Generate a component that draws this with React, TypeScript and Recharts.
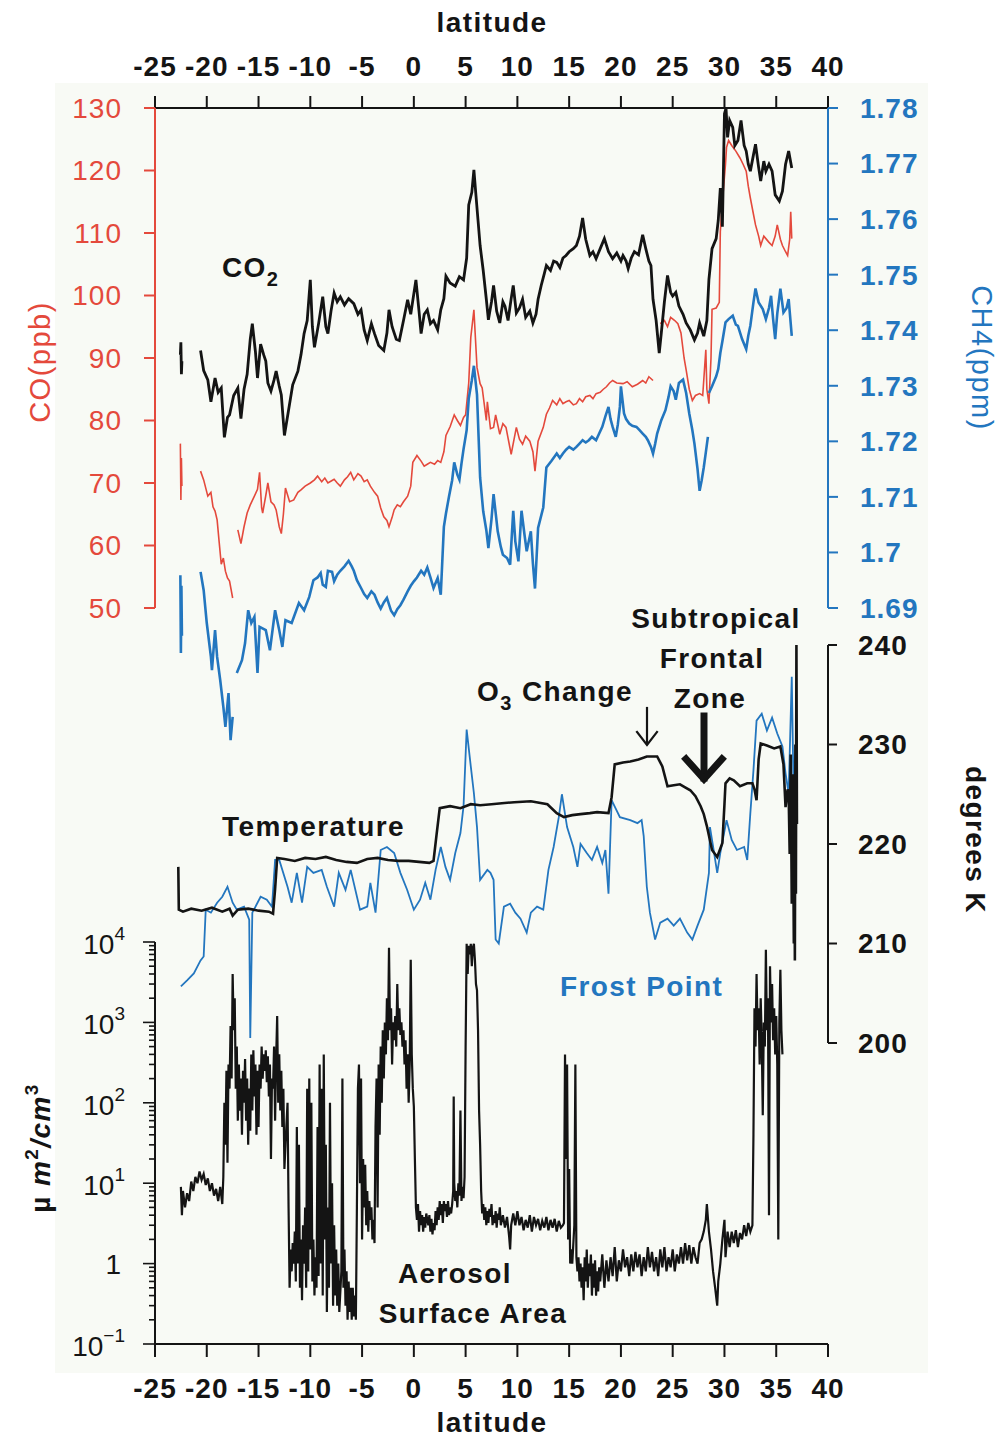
import React from 'react';
import { LineChart, Line, XAxis, YAxis } from 'recharts';

type Pt = [number, number | null];

// axis ticks
const latTicks = [-25, -20, -15, -10, -5, 0, 5, 10, 15, 20, 25, 30, 35, 40];
const coTicks = [50, 60, 70, 80, 90, 100, 110, 120, 130];
const ch4Ticks = [1.69, 1.7, 1.71, 1.72, 1.73, 1.74, 1.75, 1.76, 1.77, 1.78];
const tempTicks = [200, 210, 220, 230, 240];
const aerosolDecades = [0.1, 1, 10, 100, 1000];
const aerosolSteps = [1, 2, 3, 4, 5, 6, 7, 8, 9];

// CO (ppb) vs latitude
const coTrace: Pt[] = [
  [-22.55, 76.3], [-22.5, 67.3], [-22.45, 74.0], [-22.4, 69.5], [-21.5, null],
  [-20.6, 71.9], [-20.3, 70.5], [-19.9, 67.9], [-19.6, 68.5], [-19.4, 66.2], [-19.2, 65.5], [-19.0, 64.1],
  [-18.8, 60.5], [-18.6, 57.0], [-18.4, 58.0], [-18.2, 55.9], [-18.0, 54.8], [-17.8, 54.3], [-17.5, 51.6], [-17.3, null],
  [-17.0, 62.5], [-16.7, 60.3], [-16.4, 63.0], [-16.1, 65.2], [-15.8, 66.5], [-15.4, 67.9], [-15.1, 69.0],
  [-14.9, 71.7], [-14.7, 66.0], [-14.6, 65.2], [-14.3, 68.0], [-14.1, 70.0], [-13.8, 67.0], [-13.5, 66.5],
  [-13.3, 65.7], [-13.0, 63.0], [-12.8, 61.9], [-12.6, 65.0], [-12.4, 69.2], [-12.0, 67.0], [-11.6, 67.3],
  [-11.2, 68.5], [-10.9, 68.9], [-10.5, 69.5], [-10.0, 70.0], [-9.6, 70.5], [-9.3, 71.1], [-8.9, 70.2],
  [-8.6, 70.8], [-8.3, 70.0], [-7.9, 70.4], [-7.7, 70.6], [-7.4, 70.0], [-7.1, 69.5], [-6.7, 70.5],
  [-6.4, 71.0], [-6.1, 71.7], [-5.8, 70.5], [-5.4, 71.5], [-5.1, 71.1], [-4.8, 70.2], [-4.5, 70.5],
  [-4.2, 69.5], [-3.8, 68.5], [-3.5, 67.9], [-3.2, 66.0], [-2.9, 64.6], [-2.6, 64.0], [-2.4, 63.0],
  [-2.1, 64.5], [-1.9, 65.7], [-1.6, 66.5], [-1.3, 66.2], [-1.0, 67.0], [-0.6, 67.9], [-0.3, 69.5],
  [-0.1, 73.3], [0.3, 74.4], [0.7, 73.5], [1.0, 72.7], [1.3, 73.0], [1.6, 73.3], [2.0, 73.0], [2.3, 73.6],
  [2.6, 73.3], [2.9, 75.0], [3.1, 77.6], [3.5, 79.0], [3.9, 80.9], [4.2, 80.0], [4.5, 79.2], [4.8, 80.5],
  [5.0, 80.9], [5.3, 86.0], [5.5, 93.3], [5.8, 97.7], [6.1, 88.5], [6.4, 85.9], [6.6, 85.2], [7.0, 80.0],
  [7.1, 83.0], [7.4, 78.7], [7.7, 78.9], [7.9, 80.9], [8.3, 77.8], [8.6, 79.5], [8.9, 78.9], [9.4, 74.6],
  [9.9, 78.9], [10.2, 77.0], [10.5, 76.2], [10.8, 77.5], [11.2, 76.7], [11.5, 75.0], [11.7, 71.9],
  [12.0, 76.7], [12.5, 78.9], [12.8, 81.0], [13.1, 82.0], [13.4, 83.2], [13.8, 82.5], [14.1, 83.5],
  [14.4, 82.7], [14.7, 83.0], [15.0, 83.2], [15.4, 82.5], [15.7, 82.7], [16.0, 83.5], [16.3, 83.0],
  [16.6, 83.8], [17.0, 84.0], [17.3, 83.5], [17.6, 84.3], [18.0, 84.5], [18.3, 85.0], [18.6, 85.4],
  [18.9, 86.0], [19.2, 86.4], [19.6, 86.0], [20.2, 85.9], [20.6, 86.2], [21.1, 85.4], [21.6, 85.8],
  [22.1, 86.4], [22.4, 86.0], [22.7, 87.0], [23.1, 86.4], [23.4, null],
  [23.8, 95.5], [24.2, 96.0], [24.5, 95.0], [24.8, 96.5], [25.2, 96.0], [25.5, 95.5], [25.8, 94.0],
  [26.1, 90.0], [26.3, 88.1], [26.6, 85.0], [26.9, 83.2], [27.2, 84.0], [27.6, 84.3], [27.9, 84.0],
  [28.2, 91.3], [28.3, 85.0], [28.5, 82.7], [28.7, 90.0], [28.8, 97.8], [29.2, 98.0], [29.5, 98.9],
  [29.6, 110.2], [29.8, 115.0], [30.1, 121.0], [30.2, 123.7], [30.4, 124.8], [30.7, 124.0], [31.1, 123.1],
  [31.5, 122.0], [31.8, 121.0], [32.1, 119.9], [32.3, 117.5], [32.5, 115.6], [32.8, 113.0], [33.0, 111.3],
  [33.3, 109.5], [33.5, 108.0], [33.8, 109.5], [34.0, 109.1], [34.3, 108.5], [34.6, 108.0], [34.9, 109.5],
  [35.1, 111.3], [35.4, 109.0], [35.6, 108.0], [35.9, 107.0], [36.1, 106.4], [36.3, 109.0], [36.4, 113.4],
  [36.5, 109.1],
];

// CO2 trace (no axis of its own; read against the CO scale)
const co2Trace: Pt[] = [
  [-22.55, 90.5], [-22.5, 92.5], [-22.45, 87.4], [-22.4, 89.5], [-21.5, null],
  [-20.6, 91.2], [-20.3, 88.0], [-19.9, 86.5], [-19.6, 83.0], [-19.2, 86.8], [-18.9, 84.5], [-18.6, 85.2],
  [-18.3, 77.3], [-18.0, 80.5], [-17.8, 80.9], [-17.4, 84.0], [-17.0, 85.2], [-16.7, 80.3], [-16.4, 85.0],
  [-16.1, 87.4], [-15.8, 93.0], [-15.6, 95.5], [-15.3, 91.0], [-15.1, 86.8], [-14.8, 92.2], [-14.5, 90.5],
  [-14.3, 89.5], [-14.1, 86.0], [-13.8, 84.7], [-13.5, 86.5], [-13.3, 87.9], [-13.0, 85.5], [-12.8, 84.1],
  [-12.5, 77.6], [-11.7, 85.7], [-11.2, 87.9], [-10.9, 90.5], [-10.6, 93.9], [-10.3, 96.0], [-10.0, 102.5],
  [-9.8, 95.0], [-9.6, 91.7], [-9.2, 95.5], [-8.8, 99.8], [-8.5, 95.0], [-8.3, 93.9], [-8.0, 97.5],
  [-7.7, 100.4], [-7.4, 99.0], [-7.1, 99.8], [-6.7, 98.5], [-6.3, 99.5], [-5.8, 98.7], [-5.4, 97.0],
  [-5.1, 97.7], [-4.8, 94.5], [-4.5, 92.8], [-4.1, 95.5], [-3.8, 93.9], [-3.4, 92.0], [-2.9, 91.2],
  [-2.6, 94.0], [-2.4, 97.7], [-2.1, 95.0], [-1.7, 93.0], [-1.4, 92.8], [-1.0, 96.0], [-0.6, 99.3],
  [-0.3, 97.0], [0.2, 102.5], [0.5, 97.5], [0.7, 93.9], [1.0, 97.0], [1.3, 97.7], [1.6, 95.5], [1.9, 96.0],
  [2.3, 94.5], [2.6, 97.7], [2.9, 99.5], [3.1, 103.1], [3.5, 102.0], [4.0, 101.5], [4.4, 103.0], [4.8, 102.5],
  [5.1, 106.0], [5.3, 114.5], [5.6, 116.5], [5.8, 120.1], [6.0, 116.0], [6.2, 112.0], [6.4, 108.0],
  [6.7, 104.0], [7.0, 99.4], [7.2, 96.1], [7.5, 99.0], [7.7, 101.6], [8.0, 97.5], [8.3, 95.6], [8.6, 99.0],
  [8.8, 98.3], [9.1, 96.0], [9.4, 99.5], [9.6, 101.6], [9.9, 97.2], [10.2, 98.0], [10.5, 99.4], [10.8, 96.5],
  [11.2, 97.5], [11.5, 95.6], [11.8, 97.0], [12.0, 99.4], [12.3, 101.6], [12.6, 103.5], [12.8, 104.8],
  [13.2, 104.0], [13.5, 105.5], [13.8, 105.3], [14.1, 104.5], [14.4, 106.0], [14.7, 106.4], [15.0, 107.0],
  [15.4, 107.5], [15.7, 108.0], [16.0, 109.5], [16.3, 112.4], [16.6, 109.0], [17.0, 106.4], [17.3, 107.0],
  [17.6, 105.9], [18.0, 107.5], [18.4, 109.1], [18.8, 107.0], [19.2, 105.9], [19.6, 106.8], [20.0, 105.5],
  [20.2, 106.4], [20.5, 105.5], [20.7, 104.3], [21.0, 106.0], [21.3, 107.0], [21.7, 106.5], [22.1, 109.7],
  [22.4, 107.5], [22.7, 105.5], [22.9, 104.8], [23.1, 99.4], [23.4, 96.0], [23.7, 90.8], [23.9, 94.0],
  [24.2, 99.0], [24.5, 103.2], [24.8, 100.5], [25.0, 99.9], [25.3, 100.5], [25.6, 98.3], [26.0, 97.0],
  [26.3, 95.6], [26.7, 94.5], [27.1, 92.9], [27.4, 94.0], [27.6, 95.6], [28.0, 93.5], [28.3, 96.0],
  [28.5, 102.6], [28.8, 107.5], [29.2, 109.1], [29.4, 112.0], [29.6, 117.2], [29.8, 111.0], [30.0, 129.1],
  [30.15, 130.0], [30.3, 125.3], [30.5, 128.0], [30.8, 126.9], [31.0, 124.0], [31.3, 124.8], [31.6, 128.0],
  [31.9, 124.0], [32.1, 123.1], [32.3, 121.0], [32.5, 119.9], [32.8, 122.5], [33.0, 124.2], [33.3, 120.5],
  [33.5, 118.3], [33.8, 121.5], [34.0, 119.9], [34.3, 121.0], [34.6, 119.9], [34.9, 116.1], [35.3, 115.1],
  [35.6, 116.7], [35.9, 121.0], [36.2, 123.1], [36.5, 120.4],
];

// CH4 (ppm)
const ch4Trace: Pt[] = [
  [-22.55, 1.6959], [-22.5, 1.6819], [-22.45, 1.694], [-22.4, 1.685], [-21.5, null],
  [-20.6, 1.6965], [-20.3, 1.6932], [-20.0, 1.6873], [-19.6, 1.6812], [-19.5, 1.6788], [-19.2, 1.686],
  [-19.0, 1.6812], [-18.7, 1.677], [-18.4, 1.6722], [-18.2, 1.6686], [-17.9, 1.6747], [-17.7, 1.6662],
  [-17.5, 1.6704], [-17.3, null],
  [-17.1, 1.6783], [-16.6, 1.6806], [-16.3, 1.6837], [-16.0, 1.6896], [-15.7, 1.6873], [-15.4, 1.6884],
  [-15.1, 1.6783], [-14.9, 1.6866], [-14.3, 1.686], [-13.9, 1.6824], [-13.4, 1.6896], [-13.0, 1.686],
  [-12.7, 1.683], [-12.4, 1.6878], [-11.8, 1.6873], [-11.1, 1.6909], [-10.6, 1.6896], [-10.1, 1.692],
  [-9.7, 1.695], [-9.3, 1.6955], [-9.0, 1.6963], [-8.8, 1.6942], [-8.5, 1.6938], [-8.3, 1.6967],
  [-7.9, 1.6965], [-7.7, 1.6948], [-7.4, 1.696], [-7.1, 1.6967], [-6.7, 1.6975], [-6.3, 1.6985],
  [-6.0, 1.6975], [-5.8, 1.6967], [-5.5, 1.695], [-5.1, 1.6936], [-4.8, 1.6925], [-4.5, 1.6918],
  [-4.1, 1.693], [-3.8, 1.6924], [-3.5, 1.691], [-3.2, 1.6899], [-2.9, 1.691], [-2.6, 1.6918],
  [-2.2, 1.6895], [-1.9, 1.6887], [-1.6, 1.6898], [-1.3, 1.6905], [-1.0, 1.6915], [-0.6, 1.693],
  [-0.3, 1.694], [0.0, 1.6948], [0.3, 1.6955], [0.7, 1.6967], [1.0, 1.696], [1.3, 1.6973], [1.6, 1.6955],
  [1.9, 1.6936], [2.3, 1.6954], [2.6, 1.6924], [2.9, 1.7046], [3.1, 1.707], [3.4, 1.7101], [3.7, 1.713],
  [3.9, 1.7162], [4.2, 1.714], [4.4, 1.7131], [4.6, 1.716], [4.8, 1.7186], [5.1, 1.722], [5.3, 1.7277],
  [5.6, 1.731], [5.8, 1.7336], [6.1, 1.7284], [6.4, 1.7135], [6.7, 1.7074], [7.0, 1.704], [7.2, 1.7008],
  [7.5, 1.706], [7.7, 1.7105], [8.1, 1.7038], [8.4, 1.701], [8.6, 1.6996], [9.0, 1.699], [9.3, 1.6978],
  [9.6, 1.7075], [9.8, 1.702], [10.1, 1.6984], [10.4, 1.7075], [10.7, 1.703], [10.9, 1.7002],
  [11.3, 1.7038], [11.5, 1.698], [11.7, 1.6935], [12.0, 1.7044], [12.5, 1.7081], [12.8, 1.7153],
  [13.3, 1.7165], [13.8, 1.7178], [14.1, 1.717], [14.4, 1.7178], [14.7, 1.7185], [15.0, 1.719],
  [15.4, 1.7185], [15.7, 1.719], [16.0, 1.7196], [16.3, 1.7202], [16.6, 1.7198], [16.9, 1.7202],
  [17.2, 1.7208], [17.6, 1.7202], [17.9, 1.7214], [18.2, 1.7226], [18.5, 1.7245], [18.8, 1.7262],
  [19.0, 1.724], [19.2, 1.7226], [19.5, 1.7208], [19.7, 1.723], [19.9, 1.7262], [20.0, 1.7299],
  [20.3, 1.725], [20.5, 1.724], [20.8, 1.7232], [21.1, 1.7228], [21.5, 1.7226], [21.8, 1.722],
  [22.1, 1.7214], [22.4, 1.7208], [22.6, 1.7202], [22.9, 1.719], [23.1, 1.7178], [23.3, 1.7195],
  [23.5, 1.7214], [23.9, 1.7238], [24.3, 1.7256], [24.6, 1.728], [24.8, 1.7299], [25.1, 1.729],
  [25.3, 1.7275], [25.6, 1.7305], [26.0, 1.7311], [26.3, 1.7287], [26.6, 1.725], [26.9, 1.722],
  [27.1, 1.7196], [27.4, 1.715], [27.6, 1.7111], [27.8, 1.713], [28.0, 1.7153], [28.2, 1.718],
  [28.4, 1.7208], [28.45, null],
  [28.5, 1.7287], [28.8, 1.7299], [29.2, 1.7317], [29.4, 1.733], [29.6, 1.7359], [29.8, 1.738],
  [30.1, 1.7414], [30.4, 1.742], [30.8, 1.7426], [31.1, 1.741], [31.3, 1.7408], [31.7, 1.7384],
  [32.1, 1.7366], [32.3, 1.739], [32.5, 1.7408], [32.8, 1.745], [33.0, 1.7475], [33.3, 1.745],
  [33.7, 1.7438], [34.0, 1.742], [34.3, 1.744], [34.5, 1.7462], [34.7, 1.742], [34.9, 1.7384],
  [35.1, 1.743], [35.4, 1.7475], [35.7, 1.7432], [36.0, 1.744], [36.2, 1.7456], [36.5, 1.739],
];

// temperature (K)
const tempTrace: Pt[] = [
  [-22.75, 217.7], [-22.7, 213.4], [-22.3, 213.2], [-21.5, 213.5], [-20.5, 213.3], [-19.5, 213.6],
  [-18.5, 213.2], [-17.8, 213.5], [-17.5, 212.8], [-17.0, 213.4], [-16.0, 213.5], [-15.0, 213.3],
  [-14.0, 213.2], [-13.6, 213.0], [-13.4, 215.5], [-13.2, 218.6], [-12.5, 218.5], [-11.5, 218.3],
  [-10.5, 218.6], [-9.5, 218.5], [-8.5, 218.7], [-7.5, 218.4], [-6.5, 218.2], [-5.5, 218.1],
  [-4.5, 218.5], [-3.5, 218.6], [-2.5, 218.4], [-1.5, 218.3], [-0.5, 218.3], [0.5, 218.2], [1.5, 218.1],
  [1.9, 218.3], [2.2, 221.0], [2.5, 223.6], [3.5, 223.8], [4.5, 223.6], [5.5, 224.0], [6.4, 223.9],
  [7.5, 224.0], [8.5, 224.1], [9.7, 224.2], [11.3, 224.3], [12.9, 224.0], [13.8, 223.1], [14.5, 222.7],
  [15.3, 222.9], [16.1, 223.0], [17.0, 223.1], [17.7, 223.2], [18.8, 223.1], [19.1, 224.7], [19.4, 228.0],
  [20.2, 228.2], [20.9, 228.3], [21.7, 228.5], [22.5, 228.8], [23.5, 228.8], [24.0, 227.8], [24.5, 225.8],
  [25.1, 225.9], [25.7, 226.0], [26.2, 225.7], [26.7, 225.4], [27.2, 224.8], [27.7, 223.8], [28.0, 223.0],
  [28.3, 221.8], [28.8, 219.4], [29.3, 218.7], [29.8, 220.1], [30.0, 224.0], [30.1, 226.1], [30.5, 226.6],
  [30.9, 226.4], [31.5, 225.8], [32.2, 226.1], [32.7, 226.1], [32.9, 225.5], [33.1, 224.4], [33.3, 228.5],
  [33.5, 230.1], [34.1, 229.9], [34.8, 229.6], [35.4, 229.8], [35.7, 228.0], [35.9, 223.7], [36.1, 225.5],
  [36.2, 225.0], [36.3, 219.0], [36.4, 229.0], [36.5, 214.0], [36.6, 227.0], [36.7, 210.0], [36.75, 224.0],
  [36.8, 208.3], [36.85, 230.0], [36.9, 215.0], [36.95, 240.0], [37.0, 222.0],
];

// frost point (K)
const frostTrace: Pt[] = [
  [-22.5, 205.7], [-21.9, 206.3], [-21.25, 207.0], [-20.6, 208.3], [-20.3, 208.7], [-20.1, 213.4],
  [-19.6, 213.1], [-19.0, 214.1], [-18.5, 214.7], [-18.0, 215.7], [-17.5, 214.1], [-17.1, 213.4],
  [-16.4, 213.7], [-15.9, 212.4], [-15.8, 200.5], [-15.6, 213.1], [-14.8, 214.7], [-14.2, 214.4],
  [-13.7, 213.7], [-13.4, 218.4], [-13.0, 218.4], [-12.2, 215.7], [-11.8, 214.1], [-11.3, 217.1],
  [-10.8, 214.1], [-10.3, 217.7], [-9.7, 217.1], [-8.9, 217.4], [-8.4, 215.7], [-7.7, 213.7],
  [-7.25, 217.1], [-6.6, 215.4], [-6.1, 217.4], [-5.2, 213.4], [-4.5, 213.7], [-4.2, 216.1], [-3.7, 213.1],
  [-3.2, 219.4], [-2.6, 219.7], [-1.9, 219.1], [-1.3, 217.1], [-0.65, 215.4], [0.0, 213.4], [0.6, 214.4],
  [1.1, 216.1], [1.6, 214.4], [2.1, 217.4], [2.6, 219.7], [3.05, 217.7], [3.5, 216.4], [4.0, 219.1],
  [4.5, 221.1], [4.8, 223.8], [5.1, 231.5], [5.5, 227.8], [5.8, 225.1], [6.1, 221.7], [6.4, 216.4],
  [7.1, 217.4], [7.4, 217.1], [7.7, 216.4], [7.9, 210.4], [8.2, 210.0], [8.7, 213.7], [9.3, 214.0],
  [9.8, 213.1], [10.3, 212.5], [10.9, 211.1], [11.3, 213.1], [11.9, 213.7], [12.5, 213.4], [13.0, 217.4],
  [13.5, 219.7], [14.0, 222.7], [14.3, 225.0], [14.8, 221.7], [15.4, 219.7], [15.8, 217.7], [16.1, 220.0],
  [16.7, 219.1], [17.2, 218.4], [17.7, 219.7], [18.2, 218.1], [18.5, 219.4], [18.8, 215.0], [19.1, 224.4],
  [19.9, 222.7], [20.9, 222.4], [21.6, 222.1], [22.0, 222.4], [22.2, 220.8], [22.5, 215.7], [22.8, 213.1],
  [23.3, 210.4], [23.8, 212.1], [24.5, 212.5], [25.1, 211.8], [25.7, 212.5], [26.4, 211.1], [26.9, 210.4],
  [27.4, 211.8], [28.0, 213.4], [28.5, 217.1], [28.6, 221.7], [29.0, 219.1], [29.3, 217.1], [29.6, 219.1],
  [30.2, 222.4], [30.7, 220.4], [31.2, 219.4], [31.9, 219.7], [32.2, 218.4], [32.5, 223.1], [32.8, 227.4],
  [33.1, 232.4], [33.6, 233.1], [34.1, 231.4], [34.6, 232.7], [35.1, 231.1], [35.6, 229.8], [35.9, 227.1],
  [36.2, 225.1], [36.5, 236.8], [36.7, 223.7],
];

// aerosol surface area (um2/cm3)
const aerosolTrace: Pt[] = [
  [-22.5, 9.0], [-22.4, 4.0], [-22.3, 8.0], [-22.1, 5.0], [-21.9, 7.5], [-21.7, 6.0], [-21.5, 10.5],
  [-21.3, 8.0], [-21.1, 12.0], [-20.9, 10.0], [-20.7, 14.0], [-20.5, 11.0], [-20.3, 13.0], [-20.1, 9.5],
  [-19.9, 11.5], [-19.7, 8.0], [-19.5, 10.0], [-19.3, 7.0], [-19.1, 8.5], [-18.9, 6.0], [-18.7, 9.0],
  [-18.5, 5.5], [-18.4, 12.0], [-18.3, 100], [-18.2, 30], [-18.1, 250], [-18.0, 18], [-17.9, 300],
  [-17.8, 150], [-17.7, 900], [-17.6, 200], [-17.5, 4000], [-17.4, 800], [-17.3, 2000], [-17.2, 150],
  [-17.1, 500], [-17.0, 60], [-16.9, 300], [-16.8, 80], [-16.7, 200], [-16.6, 40], [-16.5, 250],
  [-16.4, 100], [-16.3, 350], [-16.2, 60], [-16.1, 200], [-16.0, 30], [-15.9, 150], [-15.8, 45],
  [-15.7, 400], [-15.6, 80], [-15.5, 450], [-15.4, 120], [-15.3, 300], [-15.2, 40], [-15.1, 250],
  [-15.0, 50], [-14.9, 300], [-14.8, 150], [-14.7, 500], [-14.6, 200], [-14.5, 400], [-14.4, 250],
  [-14.3, 450], [-14.2, 180], [-14.1, 380], [-14.0, 120], [-13.9, 300], [-13.8, 20], [-13.7, 200],
  [-13.6, 150], [-13.5, 500], [-13.4, 60], [-13.3, 350], [-13.2, 1200], [-13.1, 100], [-13.0, 400],
  [-12.9, 80], [-12.8, 250], [-12.7, 50], [-12.6, 150], [-12.5, 15], [-12.4, 30], [-12.2, 100],
  [-12.1, 5], [-12.0, 0.5], [-11.9, 1.5], [-11.8, 0.8], [-11.7, 1.8], [-11.6, 1.0], [-11.5, 2.5],
  [-11.4, 0.6], [-11.3, 50], [-11.2, 1.0], [-11.1, 30], [-11.0, 0.5], [-10.9, 2.0], [-10.8, 0.35],
  [-10.7, 3], [-10.6, 1.0], [-10.5, 5], [-10.4, 0.5], [-10.3, 150], [-10.2, 0.8], [-10.1, 200],
  [-10.0, 1.5], [-9.9, 100], [-9.8, 0.6], [-9.7, 2.0], [-9.6, 0.4], [-9.5, 1.2], [-9.4, 0.5], [-9.3, 50],
  [-9.2, 0.7], [-9.1, 300], [-9.0, 1.0], [-8.9, 150], [-8.8, 0.4], [-8.7, 400], [-8.6, 2.0], [-8.5, 30],
  [-8.4, 0.25], [-8.3, 5], [-8.2, 0.5], [-8.1, 100], [-8.0, 1.0], [-7.9, 10], [-7.8, 0.3], [-7.7, 3],
  [-7.6, 0.4], [-7.5, 1.5], [-7.4, 0.3], [-7.3, 1.0], [-7.2, 0.25], [-7.0, 0.8], [-6.9, 200], [-6.8, 0.5],
  [-6.7, 1.5], [-6.6, 0.3], [-6.5, 0.8], [-6.4, 0.2], [-6.3, 0.6], [-6.2, 0.25], [-6.1, 0.5], [-6.0, 0.2],
  [-5.9, 0.5], [-5.8, 0.22], [-5.7, 0.4], [-5.6, 0.2], [-5.5, 5], [-5.4, 150], [-5.3, 300], [-5.2, 10],
  [-5.1, 200], [-5.0, 2], [-4.9, 20], [-4.8, 5], [-4.7, 17], [-4.6, 3], [-4.5, 8], [-4.4, 2.5], [-4.3, 6],
  [-4.2, 3.5], [-4.1, 5], [-4.0, 2], [-3.9, 3.5], [-3.8, 1.8], [-3.7, 50], [-3.6, 200], [-3.5, 5],
  [-3.4, 300], [-3.3, 40], [-3.2, 500], [-3.1, 100], [-3.0, 800], [-2.9, 200], [-2.8, 1000], [-2.7, 400],
  [-2.6, 2000], [-2.5, 600], [-2.4, 8500], [-2.3, 800], [-2.2, 1500], [-2.1, 300], [-2.0, 1000],
  [-1.9, 600], [-1.8, 1200], [-1.7, 500], [-1.6, 3000], [-1.5, 800], [-1.4, 1500], [-1.3, 700],
  [-1.2, 1000], [-1.1, 500], [-1.0, 800], [-0.9, 300], [-0.8, 600], [-0.7, 150], [-0.6, 400], [-0.5, 100],
  [-0.4, 300], [-0.3, 6000], [-0.2, 400], [-0.1, 150], [0.0, 90], [0.1, 20], [0.2, 5], [0.3, 3.5],
  [0.4, 5.5], [0.5, 2.5], [0.6, 4.5], [0.7, 3.0], [0.8, 4.0], [0.9, 2.5], [1.0, 3.8], [1.1, 2.8],
  [1.2, 4.2], [1.3, 3.5], [1.4, 3.0], [1.5, 4.0], [1.6, 2.5], [1.7, 3.6], [1.8, 2.3], [1.9, 3.2],
  [2.0, 2.6], [2.1, 4.5], [2.2, 3.0], [2.3, 5.0], [2.4, 3.5], [2.5, 6.0], [2.6, 4.0], [2.7, 5.5],
  [2.8, 3.2], [2.9, 6.0], [3.0, 4.5], [3.1, 5.5], [3.2, 3.8], [3.3, 6.0], [3.4, 4.0], [3.5, 5.0],
  [3.6, 4.2], [3.7, 5.5], [3.8, 8.0], [3.85, 120], [3.9, 10], [4.0, 6], [4.1, 8], [4.2, 5], [4.3, 10],
  [4.4, 7], [4.5, 80], [4.6, 6], [4.7, 9], [4.8, 6.5], [4.9, 12], [5.0, 500], [5.1, 9500], [5.2, 4000],
  [5.3, 9000], [5.4, 7000], [5.5, 9500], [5.6, 5000], [5.7, 8500], [5.8, 9500], [5.9, 6000], [6.0, 3000],
  [6.1, 2500], [6.2, 800], [6.3, 80], [6.4, 30], [6.5, 8], [6.6, 4.2], [6.7, 5.5], [6.8, 3.5], [6.9, 5.0],
  [7.0, 3.0], [7.1, 4.5], [7.2, 3.2], [7.3, 4.8], [7.4, 3.8], [7.5, 5.5], [7.6, 3.0], [7.7, 4.0],
  [7.8, 3.2], [7.9, 4.5], [8.0, 2.8], [8.1, 4.2], [8.2, 3.5], [8.3, 5.0], [8.4, 3.0], [8.6, 4.0],
  [8.8, 2.8], [9.0, 3.8], [9.2, 2.2], [9.3, 1.5], [9.4, 3.0], [9.6, 4.2], [9.8, 3.0], [10.0, 4.5],
  [10.2, 3.0], [10.4, 3.8], [10.6, 2.6], [10.8, 3.5], [11.0, 2.8], [11.2, 4.0], [11.4, 2.5], [11.6, 3.8],
  [11.8, 3.0], [12.0, 3.6], [12.2, 2.6], [12.4, 3.4], [12.6, 2.8], [12.8, 3.8], [13.0, 2.6], [13.2, 3.5],
  [13.4, 2.8], [13.6, 3.6], [13.8, 2.5], [14.0, 3.4], [14.2, 2.8], [14.4, 3.0], [14.5, 3.2], [14.6, 400],
  [14.7, 20], [14.8, 300], [14.9, 2.0], [15.0, 15], [15.1, 1.0], [15.2, 1.5], [15.3, 1.0], [15.5, 3.0],
  [15.6, 300], [15.7, 1.2], [15.8, 0.8], [15.9, 1.2], [16.0, 0.6], [16.1, 1.0], [16.2, 0.5], [16.3, 0.9],
  [16.4, 0.35], [16.5, 1.2], [16.6, 0.6], [16.7, 1.5], [16.8, 0.5], [16.9, 1.0], [17.0, 0.7], [17.1, 1.3],
  [17.2, 0.4], [17.3, 1.0], [17.4, 0.5], [17.5, 1.1], [17.6, 0.4], [17.7, 0.8], [17.8, 0.45], [17.9, 0.9],
  [18.0, 0.6], [18.2, 1.3], [18.4, 0.5], [18.6, 1.1], [18.8, 0.6], [19.0, 1.2], [19.2, 0.7], [19.4, 1.6],
  [19.6, 0.6], [19.8, 1.1], [20.0, 0.8], [20.2, 1.5], [20.4, 0.9], [20.6, 1.2], [20.8, 0.7], [21.0, 1.3],
  [21.2, 0.8], [21.4, 1.4], [21.6, 0.9], [21.8, 1.3], [22.0, 0.7], [22.2, 1.2], [22.4, 0.8], [22.6, 1.6],
  [22.8, 0.9], [23.0, 1.4], [23.2, 0.8], [23.4, 1.2], [23.6, 0.7], [23.8, 1.5], [24.0, 0.9], [24.2, 1.6],
  [24.4, 0.8], [24.6, 1.2], [24.8, 0.9], [25.0, 1.5], [25.2, 0.8], [25.4, 1.3], [25.6, 1.0], [25.8, 1.6],
  [26.0, 1.0], [26.2, 1.8], [26.4, 1.1], [26.6, 1.7], [26.8, 1.0], [27.0, 1.6], [27.2, 1.2], [27.4, 1.0],
  [27.6, 1.8], [27.8, 2.0], [28.0, 2.5], [28.2, 3.5], [28.3, 5.5], [28.5, 2.5], [28.7, 1.5], [28.9, 0.8],
  [29.1, 0.5], [29.3, 0.3], [29.4, 0.6], [29.6, 1.0], [29.8, 2.0], [30.0, 3.5], [30.1, 1.2], [30.3, 2.5],
  [30.5, 1.6], [30.7, 2.5], [30.9, 1.8], [31.1, 2.6], [31.3, 1.6], [31.5, 2.4], [31.7, 2.0], [31.9, 3.0],
  [32.1, 2.2], [32.3, 3.2], [32.5, 2.5], [32.7, 3.0], [32.8, 40], [32.9, 1500], [33.0, 500], [33.1, 4000],
  [33.2, 800], [33.3, 1500], [33.4, 300], [33.5, 2000], [33.6, 600], [33.7, 70], [33.8, 1000], [33.9, 500],
  [34.0, 8000], [34.1, 800], [34.2, 2000], [34.3, 4.0], [34.4, 5000], [34.5, 1000], [34.6, 3000],
  [34.7, 600], [34.8, 1500], [34.9, 400], [35.0, 1200], [35.1, 300], [35.2, 2.0], [35.3, 1000],
  [35.4, 4500], [35.5, 800], [35.6, 400],
];

const W = 997;
const H = 1442;
const PLOT_L = 155;
const PLOT_R = 828;
const TOP_Y = 108;
const MID_Y = 608;
const TEMP_TOP = 645;
const TEMP_BOT = 1043;
const AER_TOP = 942;
const AER_BOT = 1344;
const CH4_OVER_BOT = 780;

const FONT = '"Liberation Sans", Arial, Helvetica, sans-serif';
const RED = '#e4493c';
const BLUE = '#2376bf';
const INK = '#141414';

const rows = (pts: Pt[]) => pts.map(([lat, v]) => ({ lat, v }));
const aerosolTicks = aerosolDecades
  .flatMap((d) => aerosolSteps.map((m) => Number((d * m).toPrecision(3))))
  .concat(10000);

// CH4 drops below the axis floor, so it gets its own taller plot area
const ch4PerPx = (1.78 - 1.69) / (MID_Y - TOP_Y);
const ch4Low = 1.69 - (CH4_OVER_BOT - MID_Y) * ch4PerPx;

const layer: React.CSSProperties = { position: 'absolute', left: 0, top: 0 };
const numTick = (fill: string, weight: number | string) => ({
  fill,
  fontSize: 28,
  fontWeight: weight,
  fontFamily: FONT,
  letterSpacing: 1,
});

function AerosolTick(props: any) {
  const { x, y, payload } = props;
  const v = payload.value as number;
  const e = Math.log10(v);
  const exp = Math.round(e);
  const major = Math.abs(e - exp) < 1e-6;
  return (
    <g>
      <line x1={x - (major ? 12 : 6)} x2={x} y1={y} y2={y} stroke={INK} strokeWidth={1.6} />
      {major && exp === 0 && (
        <text x={x - 34} y={y + 10} textAnchor="end" fill={INK} fontSize={28} fontFamily={FONT}>
          1
        </text>
      )}
      {major && exp !== 0 && (
        <text x={x - 30} y={y + 12} textAnchor="end" fill={INK} fontSize={28} fontFamily={FONT}>
          10
          <tspan dy={-14} fontSize={19}>
            {exp < 0 ? `\u2212${-exp}` : exp}
          </tspan>
        </text>
      )}
    </g>
  );
}

function TopPanel() {
  return (
    <LineChart
      width={W}
      height={H}
      style={layer}
      margin={{ top: TOP_Y - 40, right: W - PLOT_R - 60, bottom: H - MID_Y, left: PLOT_L - 60 }}
    >
      <XAxis
        type="number"
        dataKey="lat"
        orientation="top"
        domain={[-25, 40]}
        ticks={latTicks}
        interval={0}
        height={40}
        tickSize={12}
        tickMargin={20}
        axisLine={{ stroke: INK, strokeWidth: 2 }}
        tickLine={{ stroke: INK, strokeWidth: 2 }}
        tick={numTick(INK, 700)}
      />
      <YAxis
        yAxisId="co"
        orientation="left"
        width={60}
        domain={[50, 130]}
        ticks={coTicks}
        interval={0}
        tickSize={11}
        tickMargin={22}
        axisLine={{ stroke: RED, strokeWidth: 2 }}
        tickLine={{ stroke: RED, strokeWidth: 2 }}
        tick={numTick(RED, 400)}
      />
      <YAxis
        yAxisId="ch4"
        orientation="right"
        width={60}
        domain={[1.69, 1.78]}
        allowDataOverflow
        ticks={ch4Ticks}
        interval={0}
        tickSize={10}
        tickMargin={22}
        axisLine={{ stroke: BLUE, strokeWidth: 2 }}
        tickLine={{ stroke: BLUE, strokeWidth: 2 }}
        tick={numTick(BLUE, 700)}
      />
      <YAxis yAxisId="co2" hide domain={[50, 130]} />
      <Line
        yAxisId="co"
        data={rows(coTrace)}
        dataKey="v"
        stroke={RED}
        strokeWidth={1.6}
        dot={false}
        isAnimationActive={false}
      />
      <Line
        yAxisId="co2"
        data={rows(co2Trace)}
        dataKey="v"
        stroke={INK}
        strokeWidth={2.8}
        dot={false}
        isAnimationActive={false}
      />
    </LineChart>
  );
}

function Ch4Layer() {
  return (
    <LineChart
      width={W}
      height={H}
      style={layer}
      margin={{ top: TOP_Y, right: W - PLOT_R, bottom: H - CH4_OVER_BOT, left: PLOT_L }}
    >
      <XAxis type="number" dataKey="lat" domain={[-25, 40]} hide />
      <YAxis yAxisId="ch4" hide domain={[ch4Low, 1.78]} allowDataOverflow />
      <Line
        yAxisId="ch4"
        data={rows(ch4Trace)}
        dataKey="v"
        stroke={BLUE}
        strokeWidth={2.6}
        dot={false}
        isAnimationActive={false}
      />
    </LineChart>
  );
}

function TempPanel() {
  return (
    <LineChart
      width={W}
      height={H}
      style={layer}
      margin={{ top: TEMP_TOP, right: W - PLOT_R - 60, bottom: H - TEMP_BOT, left: PLOT_L }}
    >
      <XAxis type="number" dataKey="lat" domain={[-25, 40]} hide />
      <YAxis
        yAxisId="t"
        orientation="right"
        width={60}
        domain={[200, 240]}
        ticks={tempTicks}
        interval={0}
        tickSize={9}
        tickMargin={21}
        axisLine={{ stroke: INK, strokeWidth: 2 }}
        tickLine={{ stroke: INK, strokeWidth: 2 }}
        tick={numTick(INK, 700)}
      />
      <Line
        yAxisId="t"
        data={rows(frostTrace)}
        dataKey="v"
        stroke={BLUE}
        strokeWidth={1.8}
        dot={false}
        isAnimationActive={false}
      />
      <Line
        yAxisId="t"
        data={rows(tempTrace)}
        dataKey="v"
        stroke={INK}
        strokeWidth={2.6}
        dot={false}
        isAnimationActive={false}
      />
    </LineChart>
  );
}

function AerosolPanel() {
  return (
    <LineChart
      width={W}
      height={H}
      style={layer}
      margin={{ top: AER_TOP, right: W - PLOT_R, bottom: H - AER_BOT - 40, left: PLOT_L - 60 }}
    >
      <XAxis
        type="number"
        dataKey="lat"
        orientation="bottom"
        domain={[-25, 40]}
        ticks={latTicks}
        interval={0}
        height={40}
        tickSize={13}
        tickMargin={21}
        axisLine={{ stroke: INK, strokeWidth: 2 }}
        tickLine={{ stroke: INK, strokeWidth: 2 }}
        tick={numTick(INK, 700)}
      />
      <YAxis
        yAxisId="a"
        orientation="left"
        width={60}
        scale="log"
        domain={[0.1, 10000]}
        allowDataOverflow
        ticks={aerosolTicks}
        interval={0}
        tickSize={0}
        tickMargin={0}
        tickLine={false}
        axisLine={{ stroke: INK, strokeWidth: 2 }}
        tick={(p: any) => <AerosolTick {...p} />}
      />
      <Line
        yAxisId="a"
        data={rows(aerosolTrace)}
        dataKey="v"
        stroke={INK}
        strokeWidth={2.2}
        dot={false}
        isAnimationActive={false}
      />
    </LineChart>
  );
}

function Annotations() {
  const t = { fontFamily: FONT, fontWeight: 700, fontSize: 28, letterSpacing: 1.4 } as const;
  return (
    <svg width={W} height={H} style={{ ...layer, pointerEvents: 'none' }}>
      <text x={492} y={32} textAnchor="middle" fill={INK} {...t}>latitude</text>
      <text x={492} y={1432} textAnchor="middle" fill={INK} {...t}>latitude</text>

      <text transform="translate(50,362) rotate(-90)" textAnchor="middle" fill={RED} fontFamily={FONT} fontSize={29} letterSpacing={1.5}>
        CO(ppb)
      </text>
      <text transform="translate(972,358) rotate(90)" textAnchor="middle" fill={BLUE} fontFamily={FONT} fontSize={29} letterSpacing={1.5}>
        CH4(ppm)
      </text>
      <text transform="translate(966,840) rotate(90)" textAnchor="middle" fill={INK} {...t}>
        degrees K
      </text>
      <text transform="translate(50,1148) rotate(-90)" textAnchor="middle" fill={INK} {...t}>
        µ <tspan fontStyle="italic">m</tspan>
        <tspan dy={-12} fontSize={19}>2</tspan>
        <tspan dy={12} fontStyle="italic">/cm</tspan>
        <tspan dy={-12} fontSize={19}>3</tspan>
      </text>

      <text x={222} y={277} fill={INK} {...t}>
        CO<tspan dy={9} fontSize={20}>2</tspan>
      </text>
      <text x={222} y={836} fill={INK} {...t}>Temperature</text>
      <text x={477} y={701} fill={INK} {...t}>
        O<tspan dy={9} fontSize={20}>3</tspan>
        <tspan dy={-9}> Change</tspan>
      </text>
      <text x={716} y={628} textAnchor="middle" fill={INK} {...t}>Subtropical</text>
      <text x={712} y={668} textAnchor="middle" fill={INK} {...t}>Frontal</text>
      <text x={710} y={708} textAnchor="middle" fill={INK} {...t}>Zone</text>
      <text x={560} y={996} fill={BLUE} {...t}>Frost Point</text>
      <text x={455} y={1283} textAnchor="middle" fill={INK} {...t}>Aerosol</text>
      <text x={473} y={1323} textAnchor="middle" fill={INK} {...t}>Surface Area</text>

      <g stroke={INK} fill="none" strokeLinecap="square">
        <line x1={647} y1={708} x2={647} y2={744} strokeWidth={2.2} />
        <polyline points="637,732 647,745 657,732" strokeWidth={2.2} />
        <line x1={704} y1={716} x2={704} y2={778} strokeWidth={7} />
        <polyline points="686,759 704,779 722,759" strokeWidth={7} />
      </g>
    </svg>
  );
}

export default function App() {
  return (
    <div style={{ position: 'relative', width: W, height: H, background: '#ffffff', fontFamily: FONT, overflow: 'hidden' }}>
      <style>{'body{margin:0}'}</style>
      <div style={{ position: 'absolute', left: 55, top: 83, width: 873, height: 1290, background: '#f8faf5' }} />
      <TopPanel />
      <Ch4Layer />
      <TempPanel />
      <AerosolPanel />
      <Annotations />
    </div>
  );
}
